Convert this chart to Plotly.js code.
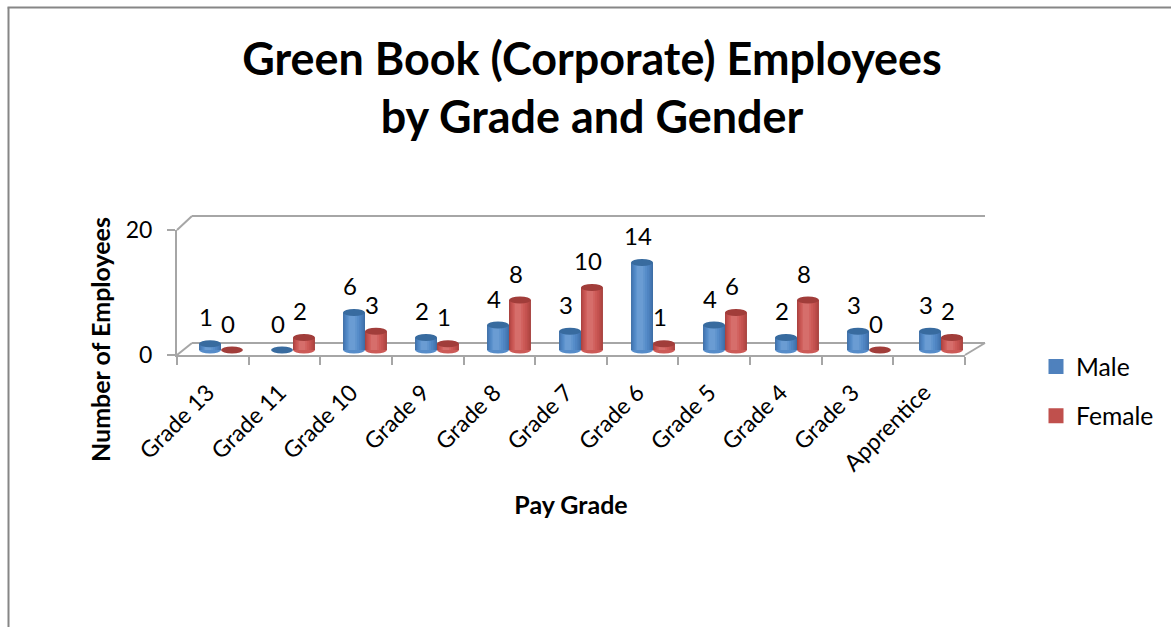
<!DOCTYPE html>
<html><head><meta charset="utf-8">
<script src="https://cdn.plot.ly/plotly-3.0.1.min.js"></script>
<style>html,body{margin:0;padding:0;background:#fff}#c{width:1171px;height:627px}</style>
</head><body><div id="c"></div>
<script>
const categories = ["Grade 13","Grade 11","Grade 10","Grade 9","Grade 8","Grade 7","Grade 6","Grade 5","Grade 4","Grade 3","Apprentice"];
const male = [1,0,6,2,4,3,14,4,2,3,3];
const female = [0,2,3,1,8,10,1,6,8,0,2];
const W = 1171, H = 627;
const FONT = "Lato, 'Open Sans', sans-serif";
const GREY = "#a6a6a6";
const idx = categories.map((_, i) => i);
const L = 177, R = 965, B = 355, T = 230;   // front axis frame in px
const dom = (a, b) => [a / W, b / W];
const vdom = (a, b) => [1 - a / H, 1 - b / H];
const barW = 0.305;
// cylinder shading: nested bars, dark edge to light centre [width fraction, colour]
const maleShades = [[1.0,"#3d6ea6"],[0.92,"#4476b0"],[0.82,"#4a7eba"],[0.70,"#4f85c2"],[0.56,"#568cc9"],[0.42,"#5f94ce"],[0.28,"#6a9cd3"]];
const femaleShades = [[1.0,"#a8423f"],[0.92,"#b24744"],[0.82,"#bc4d4a"],[0.70,"#c55350"],[0.56,"#cc5a57"],[0.42,"#d1625f"],[0.28,"#d66e6b"]];
const traces = [];
traces.push({x: categories, y: categories.map(() => 0), type: "scatter", mode: "none", xaxis: "x", yaxis: "y", showlegend: false, hoverinfo: "skip"});
traces.push({x: [0, 1], y: [null, null], type: "scatter", mode: "lines", xaxis: "x2", yaxis: "y2", showlegend: false, hoverinfo: "skip"});
function addSeries(name, vals, off, sh, baseColor) {
  const cx = off + barW / 2;
  sh.forEach(([f, col]) => {
    traces.push({
      x: idx, y: vals, type: "bar", xaxis: "x3", yaxis: "y3",
      name: name, width: barW * f, offset: cx - barW * f / 2 - (1 - f) * barW * 0.12,
      marker: {color: col, line: {width: 0}},
      showlegend: false, legendgroup: name, hoverinfo: "y"
    });
  });
  traces.push({x: [null], y: [null], type: "bar", xaxis: "x3", yaxis: "y3", name: name, legendgroup: name,
    marker: {color: baseColor, line: {color: baseColor, width: 3}}, showlegend: true, hoverinfo: "skip"});
}
addSeries("Male", male, -barW, maleShades, "#4f81bd");
addSeries("Female", female, 0, femaleShades, "#c0504d");

const shapes = [];
function caps(vals, off, top, bottom) {
  vals.forEach((v, i) => {
    const x0 = i + off, x1 = i + off + barW, ry = 0.56;
    if (v > 0) shapes.push({type: "circle", xref: "x3", yref: "y3", x0, x1, y0: -ry, y1: ry, fillcolor: bottom, line: {width: 0}, layer: "between"});
    shapes.push({type: "circle", xref: "x3", yref: "y3", x0, x1, y0: v - ry, y1: v + ry, fillcolor: top, line: {width: 0}});
  });
}
caps(male, -barW, "#386b9f", "#568cc9");
caps(female, 0, "#a13d3a", "#cc5a57");

// depth edges of the 3D frame
const line = {color: GREY, width: 2};
const dx = 15, dxR = 20, dy = 12, dyT = 14;
[[L, T, L + dx, T - dyT], [L, B, L + dx, B - dy], [R, B, R + dxR, B - dy]].forEach(([a, b, c, d]) => {
  shapes.push({type: "line", xref: "paper", yref: "paper", x0: a / W, y0: 1 - b / H, x1: c / W, y1: 1 - d / H, line, layer: "below"});
});
// page frame
const frame = {color: "#868686", width: 2};
shapes.push({type: "line", xref: "paper", yref: "paper", x0: 8.5 / W, x1: 8.5 / W, y0: 0, y1: 1 - 7.5 / H, line: frame});
shapes.push({type: "line", xref: "paper", yref: "paper", x0: 7.5 / W, x1: 1, y0: 1 - 7.5 / H, y1: 1 - 7.5 / H, line: frame});

const annotations = [];
function labels(vals, off) {
  vals.forEach((v, i) => annotations.push({
    x: i + off + barW / 2, y: v, xref: "x3", yref: "y3", text: String(v), showarrow: false,
    xanchor: "center", yanchor: "middle", xshift: -4, yshift: 27,
    font: {family: FONT, size: 24, color: "#000"}
  }));
}
labels(male, -barW);
labels(female, 0);
annotations.push({xref: "paper", yref: "paper", x: 100 / W, y: 1 - 340 / H, text: "<b>Number of Employees</b>", textangle: -90,
  showarrow: false, xanchor: "center", yanchor: "middle", font: {family: FONT, size: 25, color: "#000"}});

// back wall: value range padded so that both grid lines stay inside the axis
const wallPad = 2, wallUnit = (B - dy - (T - dyT)) / 20;
// bar axis: padded below zero so the rounded cylinder bottoms are not clipped
const barPad = 1, barUnit = (B - T) / 20, barFloor = B - 5;
const layout = {
  width: W, height: H, margin: {l: 0, r: 0, t: 0, b: 0},
  paper_bgcolor: "#fff", plot_bgcolor: "rgba(0,0,0,0)", barmode: "overlay", font: {family: FONT, color: "#000"},
  title: {text: "<b>Green Book (Corporate) Employees<br>by Grade and Gender</b>", x: 592 / W, xanchor: "center", y: 1 - 75 / H, yanchor: "middle",
    font: {family: FONT, size: 44.9, color: "#000"}},
  xaxis: {type: "category", categoryorder: "array", categoryarray: categories, domain: dom(L, R), anchor: "y", range: [-0.5, 10.5],
    showline: true, linecolor: GREY, linewidth: 2, ticks: "outside", ticklen: 8, tickcolor: GREY, tickwidth: 2, tickson: "boundaries",
    tickangle: -45, tickfont: {family: FONT, size: 23}, ticklabelstandoff: 13, ticklabelshift: -5, showgrid: false, zeroline: false,
    title: {text: "<b>Pay Grade</b>", font: {family: FONT, size: 25}, standoff: 21}},
  yaxis: {domain: vdom(B, T), range: [0, 20], anchor: "x", tickvals: [0, 20], ticktext: ["0", "20"], showline: true, linecolor: GREY, linewidth: 2,
    ticks: "outside", ticklen: 8, tickcolor: GREY, tickwidth: 2, tickfont: {family: FONT, size: 23}, ticklabelstandoff: 10, showgrid: false, zeroline: false},
  xaxis2: {domain: dom(L + dx, R + dxR), range: [0, 1], anchor: "y2", visible: false},
  yaxis2: {domain: vdom(B - dy + wallPad * wallUnit, T - dyT - wallPad * wallUnit), range: [-wallPad, 20 + wallPad], anchor: "x2", tickvals: [0, 20], showticklabels: false,
    showgrid: true, gridcolor: GREY, gridwidth: 2, zeroline: false, ticks: "", showline: false},
  // bars sit a few pixels in front of the back wall
  xaxis3: {domain: dom(L + 8, R + 12), range: [-0.5, 10.5], anchor: "y3", visible: false},
  yaxis3: {domain: vdom(barFloor + barPad * barUnit, T - 5), range: [-barPad, 20], anchor: "x3", visible: false},
  legend: {x: 1036 / W, y: 1 - 344 / H, xanchor: "left", yanchor: "top", traceorder: "grouped", tracegroupgap: 14, font: {family: FONT, size: 24.7, color: "#000"}, bgcolor: "rgba(0,0,0,0)", itemclick: false, itemdoubleclick: false},
  shapes, annotations, showlegend: true
};
Plotly.newPlot("c", traces, layout, {displayModeBar: false});
</script></body></html>
